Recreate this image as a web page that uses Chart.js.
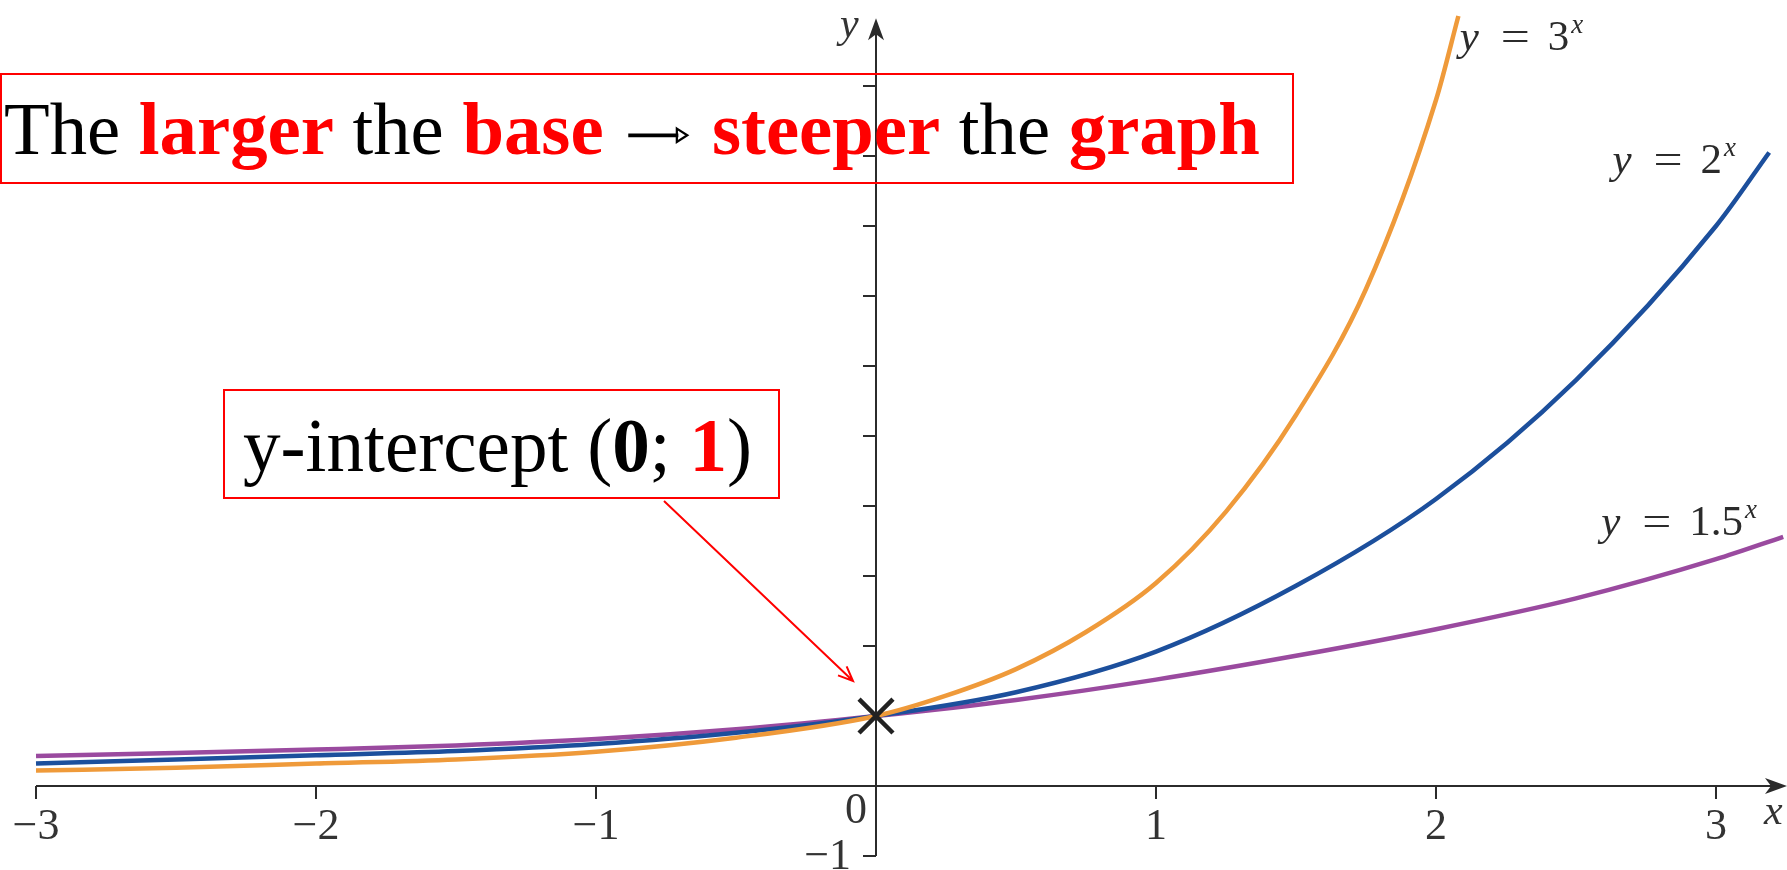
<!DOCTYPE html>
<html lang="en">
  <head>
    <meta charset="UTF-8" />
    <title>Exponential graphs - larger base, steeper graph</title>
    <style>
      body {
        margin: 0;
        background-color: #fff;
      }
      .chart-container {
        position: relative;
        width: 1787px;
        height: 870px;
      }
    </style>
  </head>
  <body>
    <div class="chart-container">
      <canvas id="expChart"></canvas>
    </div>
    <script src="https://cdn.jsdelivr.net/npm/chart.js"></script>
    <script>
      // values
      const orangeX = [-3, -2.5, -2, -1.5, -1, -0.5, 0, 0.25, 0.5, 0.75, 1, 1.25, 1.5, 1.75, 2, 2.08];
      const orangeY = [0.22, 0.26, 0.32, 0.38, 0.49, 0.69, 1.0, 1.29, 1.67, 2.2, 2.9, 3.92, 5.3, 7.1, 9.8, 11.0];

      const blueX = [-3, -2.5, -2, -1.5, -1, -0.5, 0, 0.5, 1, 1.5, 2, 2.5, 3, 3.19];
      const blueY = [0.32, 0.38, 0.44, 0.5, 0.6, 0.76, 1.0, 1.34, 1.92, 2.86, 4.1, 5.8, 8.0, 9.05];

      const purpleX = [-3, -2.5, -2, -1.5, -1, -0.5, 0, 0.5, 1, 1.5, 2, 2.5, 3, 3.24];
      const purpleY = [0.43, 0.47, 0.52, 0.58, 0.67, 0.81, 1.0, 1.23, 1.52, 1.86, 2.24, 2.68, 3.24, 3.56];

      const interceptX = [0];
      const interceptY = [1];

      const xTicks = [-3, -2, -1, 1, 2, 3];
      const xTickLabels = ["\u22123", "\u22122", "\u22121", "1", "2", "3"];
      const yTicks = [-1, 1, 2, 3, 4, 5, 6, 7, 8, 9, 10];

      const curveLabels = [
        { base: "3", x: 2.085, y: 10.51 },
        { base: "2", x: 2.63, y: 8.76 },
        { base: "1.5", x: 2.59, y: 3.59 },
      ];

      const toPoints = (xs, ys) => xs.map((x, i) => ({ x: x, y: ys[i] }));

      const SERIF = '"Liberation Serif", "Times New Roman", serif';
      const RED = "#ff0000";

      function runWidth(ctx, r, size) {
        if (r.arrow) return size * 0.95;
        ctx.font = (r.bold ? "bold " : "") + size + "px " + SERIF;
        return ctx.measureText(r.text).width;
      }

      function drawRuns(ctx, runs, x, y, size) {
        runs.forEach((r) => {
          const w = runWidth(ctx, r, size);
          if (r.arrow) {
            // thin arrow with a small open head, as in the picture
            const ay = y - size * 0.25;
            const x0 = x + size * 0.08;
            const x1 = x + w - size * 0.08;
            ctx.save();
            ctx.strokeStyle = r.color;
            ctx.lineWidth = size * 0.05;
            ctx.beginPath();
            ctx.moveTo(x0, ay);
            ctx.lineTo(x1 - size * 0.12, ay);
            ctx.stroke();
            ctx.lineWidth = size * 0.03;
            ctx.beginPath();
            ctx.moveTo(x1 - size * 0.14, ay - size * 0.09);
            ctx.lineTo(x1, ay);
            ctx.lineTo(x1 - size * 0.14, ay + size * 0.09);
            ctx.closePath();
            ctx.stroke();
            ctx.restore();
          } else {
            ctx.fillStyle = r.color;
            ctx.fillText(r.text, x, y);
          }
          x += w;
        });
      }

      function fitSize(ctx, runs, width) {
        let w = 0;
        runs.forEach((r) => {
          w += runWidth(ctx, r, 100);
        });
        return (100 * width) / w;
      }

      const axesPlugin = {
        id: "axes",
        beforeDatasetsDraw(chart) {
          const ctx = chart.ctx;
          const X = (v) => chart.scales.x.getPixelForValue(v);
          const Y = (v) => chart.scales.y.getPixelForValue(v);
          const ox = X(0);
          const oy = Y(0);
          const right = chart.width;
          const top = Y(10.97);

          ctx.save();
          ctx.strokeStyle = "#2b2b2b";
          ctx.fillStyle = "#2b2b2b";
          ctx.lineWidth = 2;

          // x axis + arrow
          ctx.beginPath();
          ctx.moveTo(X(-3), oy);
          ctx.lineTo(right - 10, oy);
          ctx.stroke();
          ctx.beginPath();
          ctx.moveTo(right, oy);
          ctx.lineTo(right - 22, oy - 8);
          ctx.lineTo(right - 16, oy);
          ctx.lineTo(right - 22, oy + 8);
          ctx.closePath();
          ctx.fill();

          // y axis + arrow
          ctx.beginPath();
          ctx.moveTo(ox, Y(-1));
          ctx.lineTo(ox, top + 10);
          ctx.stroke();
          ctx.beginPath();
          ctx.moveTo(ox, top);
          ctx.lineTo(ox - 8, top + 22);
          ctx.lineTo(ox, top + 16);
          ctx.lineTo(ox + 8, top + 22);
          ctx.closePath();
          ctx.fill();

          // ticks
          ctx.beginPath();
          xTicks.forEach((v) => {
            ctx.moveTo(X(v), oy);
            ctx.lineTo(X(v), oy + 13);
          });
          yTicks.forEach((v) => {
            ctx.moveTo(ox - 13, Y(v));
            ctx.lineTo(ox, Y(v));
          });
          ctx.stroke();

          // tick labels
          ctx.fillStyle = "#333";
          ctx.font = "44px " + SERIF;
          ctx.textAlign = "center";
          ctx.textBaseline = "alphabetic";
          xTicks.forEach((v, i) => {
            ctx.fillText(xTickLabels[i], X(v), oy + 53);
          });
          ctx.fillText("0", ox - 20, oy + 37);
          ctx.textAlign = "right";
          ctx.fillText("\u22121", ox - 25, oy + 83);

          // axis names
          ctx.textAlign = "left";
          ctx.font = "italic 42px " + SERIF;
          ctx.fillText("x", right - 23, oy + 38);
          ctx.fillText("y", ox - 36, 37);
          ctx.restore();
        },
        afterDraw(chart) {
          const ctx = chart.ctx;
          const X = (v) => chart.scales.x.getPixelForValue(v);
          const Y = (v) => chart.scales.y.getPixelForValue(v);
          ctx.save();
          ctx.textBaseline = "alphabetic";
          ctx.textAlign = "left";

          // curve labels
          curveLabels.forEach((l) => {
            const x = X(l.x);
            const y = Y(l.y);
            ctx.fillStyle = "#2b2b2b";
            ctx.font = "italic 43px " + SERIF;
            ctx.fillText("y", x, y);
            ctx.font = "43px " + SERIF;
            ctx.save();
            ctx.translate(x + 41, y);
            ctx.scale(1.2, 1);
            ctx.fillText("=", 0, 0);
            ctx.restore();
            ctx.fillText(l.base, x + 88, y);
            const bw = ctx.measureText(l.base).width;
            ctx.font = "italic 27px " + SERIF;
            ctx.fillText("x", x + 90 + bw, y - 17);
          });

          // title box
          ctx.strokeStyle = RED;
          ctx.lineWidth = 2;
          ctx.strokeRect(1, 74, 1292, 109);
          const titleRuns = [
            { text: "The ", color: "#000" },
            { text: "larger", color: RED, bold: true },
            { text: " the ", color: "#000" },
            { text: "base", color: RED, bold: true },
            { text: " ", color: "#000" },
            { arrow: true, color: "#000" },
            { text: " ", color: "#000" },
            { text: "steeper", color: RED, bold: true },
            { text: " the ", color: "#000" },
            { text: "graph", color: RED, bold: true },
          ];
          drawRuns(ctx, titleRuns, 4, 154, fitSize(ctx, titleRuns, 1256));

          // intercept box
          ctx.strokeRect(224, 390, 555, 108);
          const noteRuns = [
            { text: "y-intercept (", color: "#000" },
            { text: "0", color: "#000", bold: true },
            { text: "; ", color: "#000" },
            { text: "1", color: RED, bold: true },
            { text: ")", color: "#000" },
          ];
          drawRuns(ctx, noteRuns, 243, 471, fitSize(ctx, noteRuns, 509));

          // pointer arrow
          const ax = 664, ay = 501, bx = 853, by = 681;
          const ang = Math.atan2(by - ay, bx - ax);
          ctx.lineWidth = 2;
          ctx.beginPath();
          ctx.moveTo(ax, ay);
          ctx.lineTo(bx, by);
          ctx.moveTo(bx - 16 * Math.cos(ang - 0.4), by - 16 * Math.sin(ang - 0.4));
          ctx.lineTo(bx, by);
          ctx.lineTo(bx - 16 * Math.cos(ang + 0.4), by - 16 * Math.sin(ang + 0.4));
          ctx.stroke();
          ctx.restore();
        },
      };

      const lineSet = (label, xs, ys, color) => ({
        label: label,
        data: toPoints(xs, ys),
        showLine: true,
        borderColor: color,
        borderWidth: 4.5,
        pointRadius: 0,
        cubicInterpolationMode: "monotone",
        fill: false,
      });

      new Chart(document.getElementById("expChart"), {
        type: "scatter",
        data: {
          datasets: [
            {
              label: "y-intercept",
              data: toPoints(interceptX, interceptY),
              pointStyle: "crossRot",
              pointRadius: 24,
              borderColor: "#222",
              borderWidth: 4.5,
            },
            lineSet("y = 3^x", orangeX, orangeY, "#ef9a3a"),
            lineSet("y = 2^x", blueX, blueY, "#1c4f9c"),
            lineSet("y = 1.5^x", purpleX, purpleY, "#9a4a9f"),
          ],
        },
        options: {
          responsive: true,
          maintainAspectRatio: false,
          devicePixelRatio: 1,
          animation: false,
          layout: { padding: 0, autoPadding: false },
          plugins: {
            legend: { display: false },
            tooltip: { enabled: false },
          },
          scales: {
            x: { type: "linear", min: -3.1286, max: 3.2536, display: false },
            y: { type: "linear", min: -1.2, max: 11.229, display: false },
          },
        },
        plugins: [axesPlugin],
      });
    </script>
  </body>
</html>
